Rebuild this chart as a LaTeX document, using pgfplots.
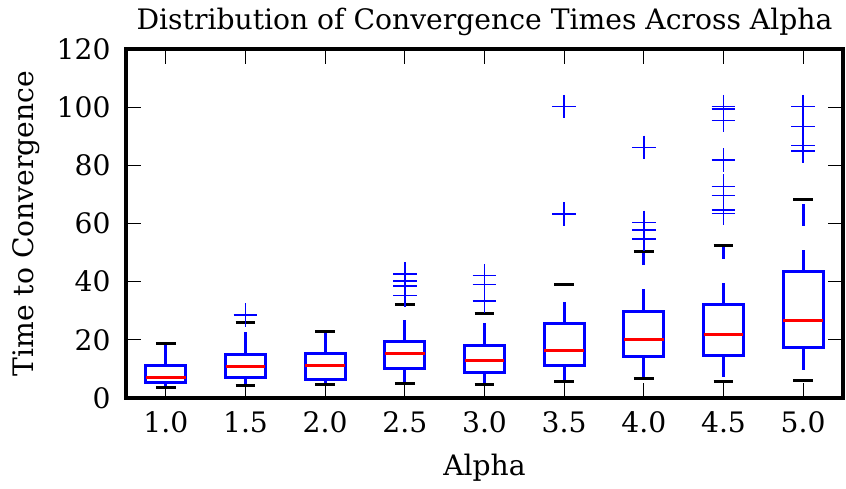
\documentclass[border=0pt]{standalone}
\usepackage{fontspec}
\setmainfont{DejaVu Serif}
\usepackage{pgfplots}
\pgfplotsset{compat=1.18}
\usepgfplotslibrary{statistics}

\newcommand{\chartfont}{\fontsize{14.1}{17}\selectfont}

\pgfplotsset{
  mybox/.style={
    boxplot/draw direction=y,
    boxplot/box extend=0.5,
    boxplot/whisker extend=0.25,
    boxplot/every box/.style={draw=blue, line width=1.5pt},
    boxplot/every median/.style={draw=red, line width=1.5pt},
    boxplot/draw/lower whisker/.code={%
      \draw[blue, line width=1.5pt, dash pattern=on 11pt off 12pt]
        (boxplot box cs:\pgfplotsboxplotvalue{lower quartile},0.5) --
        (boxplot box cs:\pgfplotsboxplotvalue{lower whisker},0.5);
      \draw[black, line width=1.5pt]
        (boxplot whisker cs:\pgfplotsboxplotvalue{lower whisker},0) --
        (boxplot whisker cs:\pgfplotsboxplotvalue{lower whisker},1);
    },
    boxplot/draw/upper whisker/.code={%
      \draw[blue, line width=1.5pt, dash pattern=on 11pt off 12pt]
        (boxplot box cs:\pgfplotsboxplotvalue{upper quartile},0.5) --
        (boxplot box cs:\pgfplotsboxplotvalue{upper whisker},0.5);
      \draw[black, line width=1.5pt]
        (boxplot whisker cs:\pgfplotsboxplotvalue{upper whisker},0) --
        (boxplot whisker cs:\pgfplotsboxplotvalue{upper whisker},1);
    },
    mark=+, mark size=5.9pt,
    mark options={draw=blue, line width=0.75pt, solid},
  }
}

\begin{document}
\begin{tikzpicture}
\begin{axis}[
  at={(0,0)}, anchor=south west,
  scale only axis,
  width=358.5pt, height=174.5pt,
  xmin=0.5, xmax=9.5, ymin=0, ymax=120,
  xtick={1,...,9},
  xticklabels={1.0,1.5,2.0,2.5,3.0,3.5,4.0,4.5,5.0},
  ytick={0,20,...,120},
  /pgf/number format/assume math mode=true,
  tick align=inside,
  tick pos=both,
  major tick length=7.5pt,
  every tick/.style={black, line width=0.65pt},
  axis line style={line width=1.6pt},
  every tick label/.append style={font=\chartfont},
  xticklabel style={yshift=-3.2pt},
  yticklabel style={xshift=-4.2pt},
  title={Distribution of Convergence Times Across Alpha},
  title style={font=\chartfont, at={(axis description cs:0.5,1)}, anchor=base, yshift=3.8pt},
  xlabel={Alpha},
  xlabel style={font=\chartfont, at={(axis description cs:0.5,0)}, anchor=base, yshift=-38.5pt},
  ylabel={Time to Convergence},
  ylabel style={font=\chartfont, at={(axis description cs:0,0.5)}, anchor=base, yshift=46.4pt},
  clip=false,
]
\addplot[mybox, boxplot prepared={draw position=1, lower whisker=3.5, lower quartile=5.4, median=7.2, upper quartile=11.3, upper whisker=18.8}] coordinates {};
\addplot[mybox, boxplot prepared={draw position=2, lower whisker=4.4, lower quartile=6.9, median=10.9, upper quartile=15.0, upper whisker=25.9}] table[row sep=\\, y index=0] {data\\ 28.5\\};
\addplot[mybox, boxplot prepared={draw position=3, lower whisker=4.8, lower quartile=6.5, median=11.2, upper quartile=15.4, upper whisker=22.8}] coordinates {};
\addplot[mybox, boxplot prepared={draw position=4, lower whisker=5.0, lower quartile=10.0, median=15.4, upper quartile=19.4, upper whisker=32.0}] table[row sep=\\, y index=0] {data\\ 42.6\\ 40.2\\ 38.5\\ 35.3\\};
\addplot[mybox, boxplot prepared={draw position=5, lower whisker=4.8, lower quartile=8.7, median=12.8, upper quartile=18.2, upper whisker=29.1}] table[row sep=\\, y index=0] {data\\ 42.1\\ 39.0\\ 33.4\\};
\addplot[mybox, boxplot prepared={draw position=6, lower whisker=5.8, lower quartile=11.1, median=16.4, upper quartile=25.6, upper whisker=39.1}] table[row sep=\\, y index=0] {data\\ 100.2\\ 63.3\\};
\addplot[mybox, boxplot prepared={draw position=7, lower whisker=6.8, lower quartile=14.4, median=20.1, upper quartile=29.9, upper whisker=50.4}] table[row sep=\\, y index=0] {data\\ 86.2\\ 60.4\\ 57.7\\ 54.6\\};
\addplot[mybox, boxplot prepared={draw position=8, lower whisker=5.8, lower quartile=14.7, median=22.0, upper quartile=32.0, upper whisker=52.3}] table[row sep=\\, y index=0] {data\\ 100.2\\ 99.4\\ 95.5\\ 81.8\\ 72.8\\ 69.6\\ 64.6\\ 63.5\\};
\addplot[mybox, boxplot prepared={draw position=9, lower whisker=6.1, lower quartile=17.3, median=26.6, upper quartile=43.4, upper whisker=68.3}] table[row sep=\\, y index=0] {data\\ 100.2\\ 93.3\\ 86.8\\ 85.0\\};
\end{axis}
\pgfresetboundingbox
\path[use as bounding box] (-63pt,-45pt) rectangle (360pt,199pt);
\end{tikzpicture}
\end{document}
